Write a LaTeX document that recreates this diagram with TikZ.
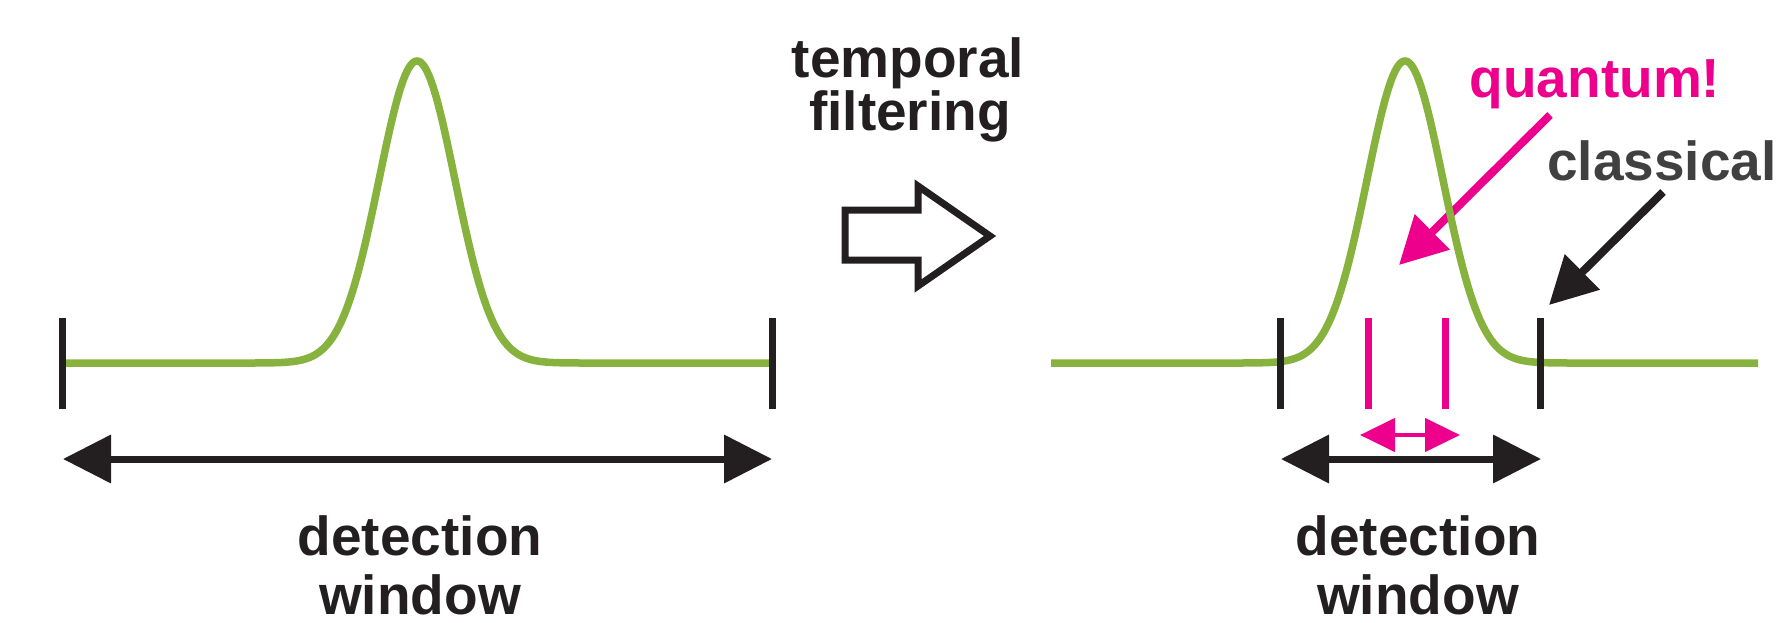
\documentclass[tikz,border=0pt]{standalone}
\usepackage{fontspec}
\setmainfont{Liberation Sans}
\usetikzlibrary{arrows.meta}
\definecolor{pulsegreen}{RGB}{134,178,61}
\definecolor{qpink}{RGB}{236,0,140}
\definecolor{ink}{RGB}{35,31,32}
\definecolor{clgray}{RGB}{64,64,65}
\begin{document}
\begin{tikzpicture}[x=1pt,y=-1pt,
  lbl/.style={anchor=base, inner sep=0pt, font=\fontsize{55}{60}\selectfont\bfseries},
  pulse/.style={pulsegreen, line width=7.5pt},
  tick/.style={ink, line width=7pt},
  gate/.style={qpink, line width=7pt},
  span/.style={ink, line width=7pt, {Triangle[length=48pt,width=47pt]}-{Triangle[length=48pt,width=47pt]}},
  gatespan/.style={qpink, line width=4.5pt, {Triangle[length=35pt,width=33pt]}-{Triangle[length=35pt,width=33pt]}},
  pointer/.style={line width=8pt, -{Triangle[length=47pt,width=48pt]}},
  blockarrow/.style={ink, line width=7pt, line join=miter, fill=white}
]
\useasboundingbox (0,0) rectangle (1778,622);

% ---------- left panel: full detection window ----------
\coordinate (lt1a) at (62,318);  \coordinate (lt1b) at (62,409);
\coordinate (lt2a) at (772,318); \coordinate (lt2b) at (772,409);
\coordinate (lsl) at (63,459);   \coordinate (lsr) at (772,459);

% Gaussian pulse, sigma = 38, flat baseline beyond +-200
\draw[pulse] (62,363) -- plot[domain=-200:200, samples=201]
  ({417+\x},{363-302*exp(-0.5*(\x/38)*(\x/38))}) -- (772,363);
\draw[tick] (lt1a) -- (lt1b);
\draw[tick] (lt2a) -- (lt2b);
\draw[span] (lsl) -- (lsr);
\node[lbl, ink] (ldet) at (420,555) {detection};
\node[lbl, ink] (lwin) at (420,614) {window};

% ---------- middle: filtering step ----------
\node[lbl, ink] (tf1) at (908,77) {temporal};
\node[lbl, ink] (tf2) at (910,130) {filtering};
\draw[blockarrow] (845,210) -- (918,210) -- (918,186) -- (990,236)
  -- (918,286) -- (918,260) -- (845,260) -- cycle;

% ---------- right panel: narrowed window ----------
\coordinate (qtail) at (1550,115); \coordinate (qtip) at (1399,265);
\coordinate (ctail) at (1663,192); \coordinate (ctip) at (1549,305);
\coordinate (rt1a) at (1280,318);  \coordinate (rt1b) at (1280,409);
\coordinate (rt2a) at (1540,318);  \coordinate (rt2b) at (1540,409);
\coordinate (g1a) at (1368,318);   \coordinate (g1b) at (1368,409);
\coordinate (g2a) at (1445,318);   \coordinate (g2b) at (1445,409);
\coordinate (rsl) at (1281,459);   \coordinate (rsr) at (1541,459);
\coordinate (gsl) at (1360,435);   \coordinate (gsr) at (1460,435);

\draw[pointer, qpink] (qtail) -- (qtip);
\draw[pulse] (1051,363) -- plot[domain=-200:200, samples=201]
  ({1405+\x},{363-302*exp(-0.5*(\x/38)*(\x/38))}) -- (1758,363);
\draw[pointer, ink] (ctail) -- (ctip);
\draw[tick] (rt1a) -- (rt1b);
\draw[tick] (rt2a) -- (rt2b);
\draw[gate] (g1a) -- (g1b);
\draw[gate] (g2a) -- (g2b);
\draw[gatespan] (gsl) -- (gsr);
\draw[span] (rsl) -- (rsr);

\node[lbl, qpink] (quant) at (1595,97) {quantum!};
\node[lbl, clgray] (class) at (1662,180) {classical};
\node[lbl, ink] (rdet) at (1418,555) {detection};
\node[lbl, ink] (rwin) at (1418,614) {window};
\end{tikzpicture}
\end{document}
